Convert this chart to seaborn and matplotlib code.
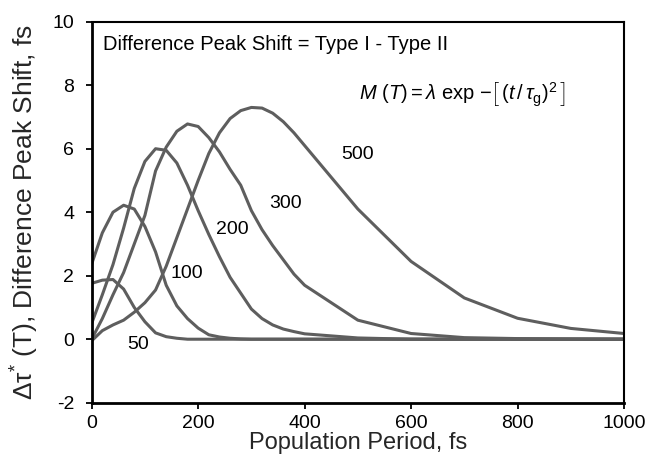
import numpy as np
import pandas as pd
import matplotlib
matplotlib.use("Agg")
import matplotlib.pyplot as plt
import seaborn as sns

# Population period sampling (fs)
period = [0, 20, 40, 60, 80, 100, 120, 140, 160, 180, 200, 220, 240, 260, 280,
          300, 320, 340, 360, 380, 400, 500, 600, 700, 800, 900, 1000]

# Difference peak shift (fs) for each Gaussian decay time tau_g (fs)
shift_50 = [1.76, 1.86, 1.88, 1.58, 1.00, 0.55, 0.20, 0.08, 0.03, 0.0, 0.0, 0.0, 0.0, 0.0, 0.0,
            0.0, 0.0, 0.0, 0.0, 0.0, 0.0, 0.0, 0.0, 0.0, 0.0, 0.0, 0.0]
shift_100 = [2.37, 3.35, 4.00, 4.22, 4.10, 3.55, 2.75, 1.70, 1.05, 0.65, 0.35, 0.14, 0.07, 0.03, 0.01,
             0.0, 0.0, 0.0, 0.0, 0.0, 0.0, 0.0, 0.0, 0.0, 0.0, 0.0, 0.0]
shift_200 = [0.50, 1.40, 2.35, 3.50, 4.75, 5.60, 6.00, 5.95, 5.55, 4.85, 4.05, 3.30, 2.60, 1.95, 1.45,
             0.95, 0.65, 0.45, 0.32, 0.24, 0.17, 0.04, 0.0, 0.0, 0.0, 0.0, 0.0]
shift_300 = [0.0, 0.65, 1.40, 2.10, 3.00, 3.90, 5.30, 6.05, 6.55, 6.78, 6.70, 6.35, 5.90, 5.35, 4.85,
             4.05, 3.45, 2.95, 2.50, 2.05, 1.70, 0.60, 0.18, 0.05, 0.02, 0.01, 0.0]
shift_500 = [-0.05, 0.27, 0.45, 0.60, 0.85, 1.15, 1.55, 2.30, 3.20, 4.10, 5.00, 5.85, 6.50, 6.95, 7.20,
             7.30, 7.28, 7.12, 6.85, 6.50, 6.10, 4.10, 2.45, 1.30, 0.66, 0.34, 0.18]

tau_labels = ["50", "100", "200", "300", "500"]
series = [shift_50, shift_100, shift_200, shift_300, shift_500]

# Where each tau_g label sits (data coordinates)
label_x = [87, 179, 264, 365, 499]
label_y = [-0.18, 2.08, 3.44, 4.27, 5.82]

x_ticks = [0, 200, 400, 600, 800, 1000]
y_ticks = [-2, 0, 2, 4, 6, 8, 10]

frames = []
for tau, vals in zip(tau_labels, series):
    frames.append(pd.DataFrame({"period": period, "shift": vals, "tau": tau}))
df = pd.concat(frames, ignore_index=True)

sns.set_theme(style="ticks")
plt.rcParams["font.family"] = ["Liberation Sans", "DejaVu Sans"]
plt.rcParams["axes.unicode_minus"] = False
plt.rcParams["mathtext.fontset"] = "custom"
plt.rcParams["mathtext.rm"] = "Liberation Sans"
plt.rcParams["mathtext.it"] = "Liberation Sans:italic"
plt.rcParams["mathtext.bf"] = "Liberation Sans:bold"

fig = plt.figure(figsize=(6.47, 4.63), dpi=100)
ax = fig.add_axes([0.1417, 0.1302, 0.8228, 0.8229])

line_color = "#5e5e5e"
sns.lineplot(data=df, x="period", y="shift", hue="tau", units="tau", estimator=None,
             sort=False, palette=[line_color] * len(tau_labels), linewidth=2.2,
             legend=False, ax=ax)

ax.set_xlim(0, 1000)
ax.set_ylim(-2, 10)
ax.set_xticks(x_ticks)
ax.set_yticks(y_ticks)
ax.tick_params(axis="both", labelsize=14, colors="black", direction="out",
               length=4.5, width=1.3)
ax.tick_params(axis="y", pad=8)
ax.tick_params(axis="x", pad=4)

for side in ["left", "bottom"]:
    ax.spines[side].set_linewidth(2.0)
    ax.spines[side].set_color("black")
for side in ["top", "right"]:
    ax.spines[side].set_visible(True)
    ax.spines[side].set_linewidth(1.5)
    ax.spines[side].set_color("black")

ax.set_xlabel("Population Period, fs", fontsize=17, labelpad=0)
ax.set_ylabel(r"Δτ$^{*}$ (T), Difference Peak Shift, fs", fontsize=19, labelpad=8)

for t, lx, ly in zip(tau_labels, label_x, label_y):
    ax.text(lx, ly, t, fontsize=14, ha="center", va="center", color="black")

ax.text(22, 9.27, "Difference Peak Shift = Type I - Type II", fontsize=14.5,
        ha="left", va="center", color="black")
ax.text(696, 7.69,
        r"$\mathit{M}\ (\mathit{T}) = \lambda\ \mathrm{exp}\ \mathrm{-}\left[\,(\mathit{t}\,/\,\tau_{\mathrm{g}})^{2}\,\right]$",
        fontsize=14.5, ha="center", va="center", color="black")

fig.savefig("out.png", dpi=100, facecolor="white")
